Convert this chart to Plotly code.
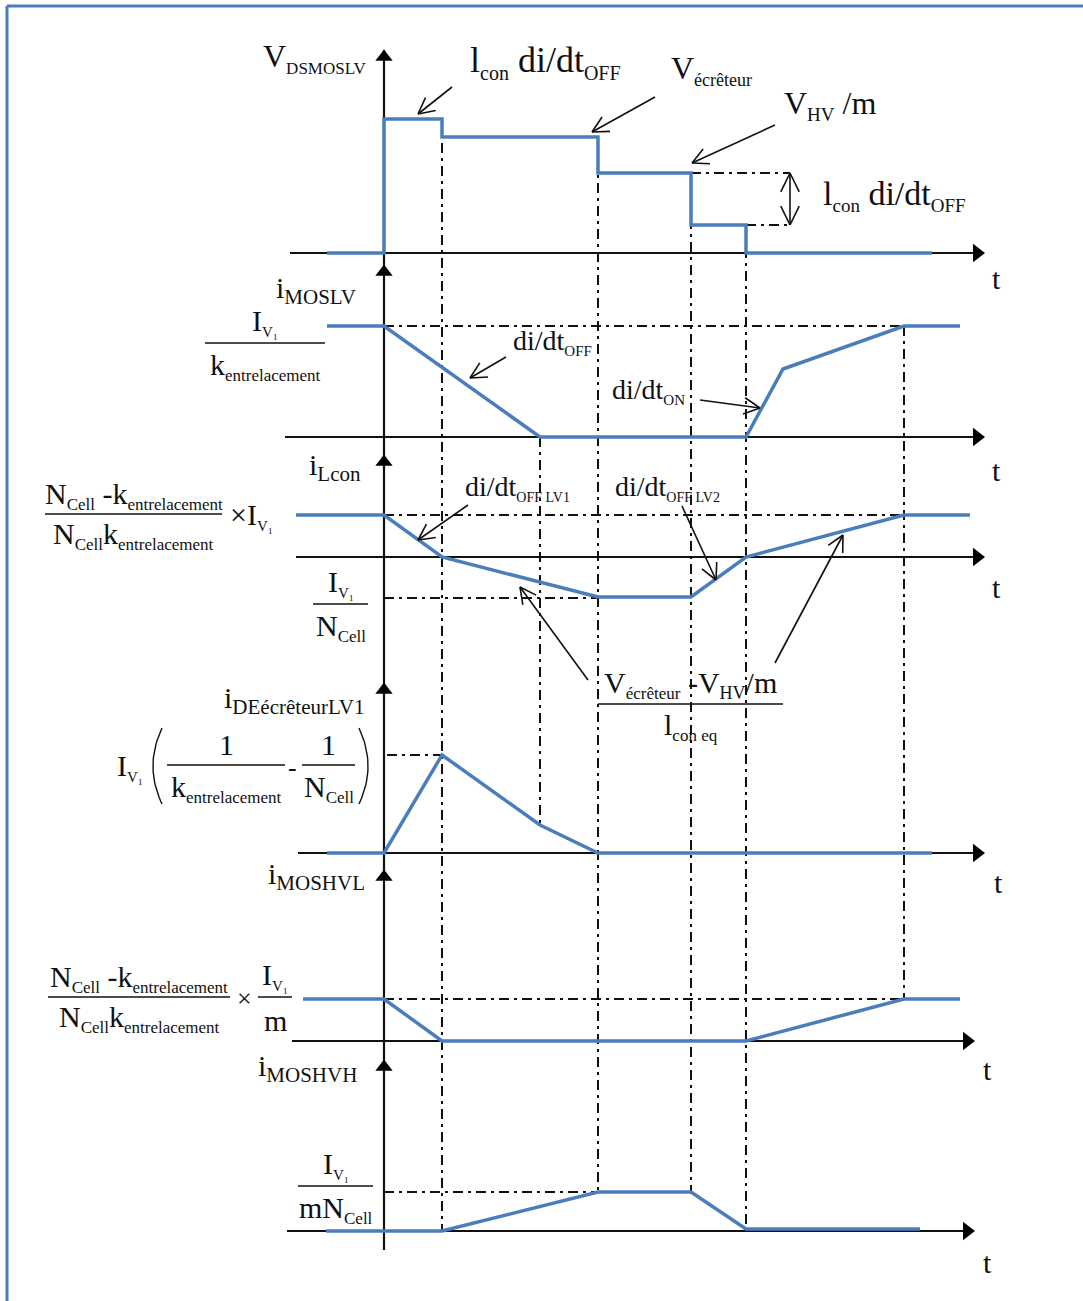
import numpy as np
import plotly.graph_objects as go

# ── Data (in picture units) ──────────────────────────────────────────────────
# each panel: baseline of the time axis, waveform times and levels above baseline
BASE = {"vds": 253, "imoslv": 437, "ilcon": 557, "ide": 853, "ihvl": 1041, "ihvh": 1231}

VDS_T = [327, 384, 384, 442, 442, 598, 598, 691, 691, 746, 746, 932]
VDS_V = [0, 0, 134, 134, 116, 116, 80, 80, 28, 28, 0, 0]

IMOSLV_T = [327, 384, 540, 746, 783, 904, 960]
IMOSLV_V = [111, 111, 0, 0, 68, 111, 111]

ILCON_T = [296, 384, 442, 598, 691, 746, 904, 970]
ILCON_V = [42, 42, 0, -40, -40, 0, 42, 42]

IDE_T = [327, 384, 442, 540, 598, 932]
IDE_V = [0, 0, 98, 28, 0, 0]

IHVL_T = [303, 384, 442, 746, 904, 960]
IHVL_V = [42, 42, 0, 0, 42, 42]

IHVH_T = [326, 442, 598, 691, 746, 920]
IHVH_V = [0, 0, 39, 39, 2, 2]

# horizontal time axes: start, end
AX_START = {"vds": 290, "imoslv": 285, "ilcon": 296, "ide": 298, "ihvl": 292, "ihvh": 287}
AX_END = {"vds": 985, "imoslv": 985, "ilcon": 985, "ide": 985, "ihvl": 975, "ihvh": 975}
T_LABEL = [(996, 278), (996, 470), (996, 587), (998, 882), (987, 1069), (987, 1262)]

# vertical axis and its arrow heads
T0 = 384
VAX_SPAN = (1250, 50)
VAX_HEADS = [57, 272, 462, 690, 877, 1067]

# dash-dot guides: vertical (x, y0, y1) and horizontal (x0, x1, y)
VGUIDE = [(442, 120, 1232), (540, 437, 826), (598, 137, 1192),
          (691, 173, 1192), (746, 225, 1230), (904, 326, 999)]
HGUIDE = [(691, 790, 173), (746, 790, 225), (384, 904, 326), (384, 904, 515),
          (384, 598, 598), (387, 442, 755), (384, 904, 999), (384, 598, 1192)]

# open arrows: tail -> tip
ARROWS = [(452, 87, 418, 114), (655, 97, 592, 132), (775, 125, 692, 163),
          (506, 357, 470, 378), (700, 400, 760, 408), (468, 505, 418, 540),
          (682, 506, 716, 580), (588, 680, 520, 587), (775, 663, 843, 535)]
DOUBLE_ARROW = (790, 173, 790, 225)

BLUE = "#4A7EBB"
INK = "#111111"
FONT = "Liberation Serif"


def sub(s, size=17):
    return f'<sub><span style="font-size:{size}px">{s}</span></sub>'


IV1 = "I" + sub("V₁", 15)

fig = go.Figure()


def line(xs, ys, color=INK, width=2.0, dash=None):
    fig.add_trace(go.Scatter(x=xs, y=ys, mode="lines", hoverinfo="skip",
                             line=dict(color=color, width=width, dash=dash)))


def text(x, y, s, size=30, anchor="center"):
    fig.add_annotation(x=x, y=y, text=s, showarrow=False, xanchor=anchor, yanchor="middle",
                       font=dict(family=FONT, size=size, color=INK))


def frac(x0, x1, y, num, den, size=30, gap=21):
    xc = (x0 + x1) / 2
    line([x0, x1], [y, y], width=1.3)
    text(xc, y - gap, num, size)
    text(xc, y + gap + 2, den, size)


def paren(x_tip, x_mid, yc, half):
    # thin tall bracket drawn as a parabola
    ys = np.linspace(yc - half, yc + half, 25)
    xs = x_mid + (x_tip - x_mid) * ((ys - yc) / half) ** 2
    line(list(xs), list(ys), width=1.4)


def head(x0, y0, x1, y1, length=18, ang=np.radians(27)):
    d = np.array([x1 - x0, y1 - y0], float)
    d /= np.hypot(*d)
    xs, ys = [], []
    for a in (ang, -ang):
        r = np.array([[np.cos(a), -np.sin(a)], [np.sin(a), np.cos(a)]]) @ d
        xs += [x1 - length * r[0], x1, None]
        ys += [y1 - length * r[1], y1, None]
    return xs, ys


# ── frame ────────────────────────────────────────────────────────────────────
line([7, 1083], [6, 6], color=BLUE, width=3)
line([7, 7], [6, 1301], color=BLUE, width=3)

# ── dash-dot guides ──────────────────────────────────────────────────────────
DD = "10px,5px,3px,5px"
for x, y0, y1 in VGUIDE:
    line([x, x], [y0, y1], width=2, dash=DD)
for x0, x1, y in HGUIDE:
    line([x0, x1], [y, y], width=2, dash=DD)

# ── axes ─────────────────────────────────────────────────────────────────────
line([T0, T0], list(VAX_SPAN), width=2.2)
for k in BASE:
    line([AX_START[k], AX_END[k] - 8], [BASE[k], BASE[k]], width=2.2)
fig.add_trace(go.Scatter(x=[AX_END[k] - 8 for k in BASE], y=[BASE[k] for k in BASE], mode="markers",
                         hoverinfo="skip", marker=dict(symbol="triangle-right", size=16, color="black")))
fig.add_trace(go.Scatter(x=[T0] * len(VAX_HEADS), y=VAX_HEADS, mode="markers", hoverinfo="skip",
                         marker=dict(symbol="triangle-up", size=15, color="black")))
for x, y in T_LABEL:
    text(x, y, "t", 30)

# ── waveforms ────────────────────────────────────────────────────────────────
for k, ts, vs in [("vds", VDS_T, VDS_V), ("imoslv", IMOSLV_T, IMOSLV_V), ("ilcon", ILCON_T, ILCON_V),
                  ("ide", IDE_T, IDE_V), ("ihvl", IHVL_T, IHVL_V), ("ihvh", IHVH_T, IHVH_V)]:
    line(ts, [BASE[k] - v for v in vs], color=BLUE, width=3.5)

# ── annotation arrows ────────────────────────────────────────────────────────
ax, ay = [], []
for x0, y0, x1, y1 in ARROWS:
    hx, hy = head(x0, y0, x1, y1)
    ax += [x0, x1, None] + hx
    ay += [y0, y1, None] + hy
x0, y0, x1, y1 = DOUBLE_ARROW
ax += [x0, x1, None]
ay += [y0, y1, None]
for a, b, c, d in [(x0, y0, x1, y1), (x1, y1, x0, y0)]:
    hx, hy = head(a, b, c, d, length=21, ang=np.radians(26))
    ax += hx
    ay += hy
line(ax, ay, width=1.6)

# ── labels ───────────────────────────────────────────────────────────────────
text(315, 58, "V" + sub("DSMOSLV", 17), 32)
text(545, 62, "l" + sub("con", 20) + " di/dt" + sub("OFF", 20), 36)
text(711, 70, "V" + sub("écrêteur", 18), 32)
text(830, 105, "V" + sub("HV", 19) + " /m", 32)
text(894, 195, "l" + sub("con", 19) + " di/dt" + sub("OFF", 19), 34)

text(316, 290, "i" + sub("MOSLV", 21), 30)
frac(205, 325, 343, IV1, "k" + sub("entrelacement"))
text(552, 342, "di/dt" + sub("OFF", 15), 28)
text(648, 391, "di/dt" + sub("ON", 15), 28)

text(335, 467, "i" + sub("Lcon", 21), 30)
frac(45, 222, 514, "N" + sub("Cell") + " -k" + sub("entrelacement"), "N" + sub("Cell") + "k" + sub("entrelacement"),
     gap=19)
text(251, 516, "×" + IV1, 30)
text(517, 488, "di/dt" + sub("OFF LV1", 14), 28)
text(667, 488, "di/dt" + sub("OFF LV2", 14), 28)
frac(313, 368, 604, IV1, "N" + sub("Cell"))
frac(598, 783, 704, "V" + sub("écrêteur") + " -V" + sub("HV", 18) + "/m", "l" + sub("con eq"), gap=20)

text(294, 700, "i" + sub("DEécrêteurLV1", 21), 30)
text(130, 767, IV1, 30)
paren(162, 153, 766, 38)
frac(167, 285, 765, "1", "k" + sub("entrelacement"))
text(292, 767, "-", 26)
frac(302, 355, 765, "1", "N" + sub("Cell"))
paren(359, 368, 766, 38)

text(316, 876, "i" + sub("MOSHVL", 21), 30)
frac(48, 230, 997, "N" + sub("Cell") + " -k" + sub("entrelacement"), "N" + sub("Cell") + "k" + sub("entrelacement"),
     gap=19)
text(244, 998, "×", 26)
frac(258, 292, 997, IV1, "m")

text(307, 1068, "i" + sub("MOSHVH", 21), 30)
frac(298, 373, 1186, IV1, "mN" + sub("Cell"))

fig.update_layout(
    width=1083, height=1301, margin=dict(l=0, r=0, t=0, b=0),
    paper_bgcolor="white", plot_bgcolor="white", showlegend=False,
    xaxis=dict(range=[0, 1083], visible=False, fixedrange=True),
    yaxis=dict(range=[1301, 0], visible=False, fixedrange=True),
)

# drop the page's default body margin so picture units land on screen pixels
fig.write_html("out.html", config={"displayModeBar": False},
               post_script="document.body.style.margin='0';")
